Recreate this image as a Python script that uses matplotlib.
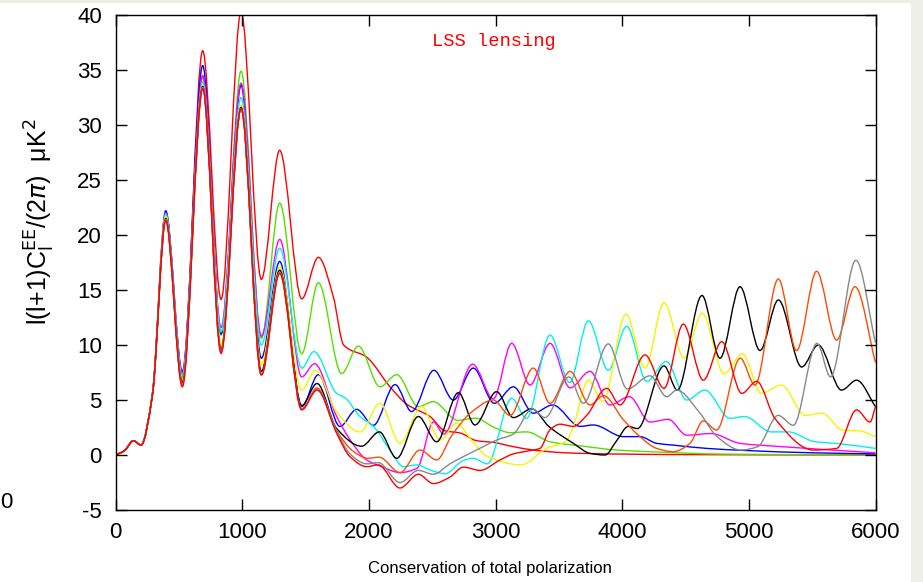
import numpy as np
import matplotlib
matplotlib.use("Agg")
import matplotlib.pyplot as plt
from matplotlib.path import Path
from matplotlib.patches import PathPatch, Rectangle

plt.rcParams["axes.unicode_minus"] = False

# multipoles shared by every curve up to the fourth trough
low_ell = [0, 70, 140, 200, 290, 395, 526, 687, 832, 990, 1150, 1295, 1469]

red_top_low = [0, 0.4, 1.3, 0.9, 5.5, 21.8, 7.0, 36.75, 14.15, 40.3, 15.97, 27.7, 14.2]
red_top_ell = [1600, 1718, 1800, 1981, 2166, 2300, 2482, 2600, 2720, 2850, 2980, 3140,
               3300, 3535, 3930, 4600, 6000]
red_top_val = [17.97, 14.4, 10.0, 8.9, 6.2, 4.6, 3.5, 2.2, 2.0, 1.3, 1.15, 0.76,
               0.45, 0.21, 0.09, 0.03, 0.0]

green_low = [0, 0.4, 1.3, 0.9, 5.5, 22.0, 7.1, 34.3, 10.9, 34.9, 10.6, 22.9, 9.2]
green_ell = [1600, 1784, 1916, 2087, 2219, 2390, 2508, 2700, 2840, 2990, 3114, 3245,
             3430, 3693, 3956, 4219, 4800, 6000]
green_val = [15.66, 7.4, 9.9, 6.2, 7.3, 4.4, 4.85, 3.15, 3.35, 2.5, 2.03, 2.1,
             1.2, 0.8, 0.45, 0.3, 0.08, 0.0]

blue_low = [0, 0.4, 1.3, 0.9, 5.6, 22.2, 7.6, 35.4, 11.0, 33.6, 8.8, 17.6, 4.4]
blue_ell = [1600, 1771, 1903, 2035, 2206, 2337, 2513, 2666, 2824, 2990, 3140, 3298,
            3450, 3666, 3772, 4009, 4140, 4272, 4403, 4667, 4990, 5500, 6000]
blue_val = [7.3, 2.6, 4.15, 2.7, 6.4, 3.95, 7.7, 5.0, 7.9, 4.7, 6.2, 3.8,
            4.55, 2.6, 2.73, 1.67, 1.67, 1.06, 0.9, 0.6, 0.4, 0.2, 0.1]

magenta_low = [0, 0.4, 1.3, 0.9, 5.5, 22.0, 7.4, 34.5, 11.6, 33.8, 10.8, 19.6, 7.1]
magenta_ell = [1570, 1745, 1850, 1982, 2100, 2245, 2380, 2510, 2590, 2819, 2982, 3127,
               3272, 3430, 3588, 3745, 3903, 4056, 4219, 4364, 4509, 4700, 4930, 5258,
               6000]
magenta_val = [8.3, 3.5, 1.4, -0.45, -1.06, -1.6, -1.2, 3.0, 1.9, 8.25, 5.1, 10.15,
               6.36, 10.15, 6.1, 7.6, 4.55, 5.3, 3.0, 3.24, 1.8, 1.95, 1.06, 0.76,
               0.2]

cyan_low = [0, 0.4, 1.3, 0.9, 5.5, 21.9, 7.2, 33.9, 11.2, 32.5, 10.0, 18.8, 7.9]
cyan_ell = [1565, 1745, 1811, 1929, 2035, 2166, 2271, 2380, 2482, 2600, 2745, 2820,
            2935, 3127, 3245, 3430, 3585, 3732, 3890, 4035, 4193, 4348, 4509, 4653,
            4851, 4966, 5177, 5311, 5525, 5685, 6000]
cyan_val = [9.4, 5.6, 5.2, 3.5, 2.6, 0.45, -1.06, -0.9, -1.36, -1.7, -0.5, -0.3,
            -0.8, 5.15, 3.33, 10.9, 6.6, 12.2, 7.7, 11.7, 6.7, 8.5, 5.0, 5.9,
            3.33, 3.5, 2.1, 2.1, 1.2, 1.06, 0.6]

yellow_low = [0, 0.4, 1.3, 0.9, 5.5, 21.7, 6.8, 33.6, 10.0, 31.8, 8.2, 17.1, 5.9]
yellow_ell = [1575, 1745, 1929, 2087, 2245, 2416, 2561, 2693, 2800, 2930, 3200, 3403,
              3561, 3614, 3732, 3846, 4030, 4180, 4330, 4488, 4632, 4803, 4950, 5097,
              5258, 5445, 5578, 5739, 5872, 6000]
yellow_val = [7.7, 3.9, 2.1, 4.7, 1.06, 4.4, 1.36, 2.9, 1.5, -0.1, -0.9, 0.6,
              1.3, 2.6, 6.8, 4.85, 12.8, 7.9, 13.85, 8.8, 12.9, 7.4, 9.2, 5.6,
              6.36, 3.6, 3.8, 2.27, 2.2, 1.67]

black_low = [0, 0.4, 1.3, 0.9, 5.5, 21.5, 6.6, 33.5, 9.6, 31.6, 7.6, 16.8, 4.5]
black_ell = [1590, 1745, 1942, 2082, 2219, 2390, 2535, 2706, 2837, 3008, 3140, 3285,
             3420, 3614, 3745, 3864, 3956, 4048, 4120, 4330, 4435, 4630, 4772, 4930,
             5088, 5233, 5417, 5548, 5732, 5851, 6000]
black_val = [6.5, 2.4, 0.8, 2.1, -0.3, 3.5, 1.2, 5.67, 2.73, 5.76, 3.4, 4.2,
             2.6, 1.06, 0.15, 0.0, 1.3, 2.6, 2.4, 8.1, 5.9, 14.5, 8.8, 15.3,
             9.5, 14.1, 8.0, 10.0, 5.9, 6.8, 4.4]

orange_low = [0, 0.4, 1.3, 0.9, 5.5, 21.4, 6.4, 33.4, 9.4, 31.5, 7.3, 16.6, 4.2]
orange_ell = [1590, 1745, 1880, 1990, 2080, 2245, 2403, 2535, 2650, 2800, 2982, 3114,
              3298, 3430, 3588, 3745, 3851, 4009, 4140, 4272, 4403, 4535, 4640, 4745,
              4932, 5048, 5233, 5377, 5535, 5693, 5838, 6000]
orange_val = [6.1, 2.2, 0.3, -0.3, -0.2, -1.6, 0.45, -0.45, 1.7, 3.8, 5.0, 3.6,
              7.9, 4.7, 7.6, 4.55, 5.4, 3.2, 1.67, 0.6, 0.3, 1.06, 3.1, 2.27,
              8.8, 6.36, 16.0, 9.5, 16.7, 10.45, 15.3, 8.4]

gray_low = [0, 0.4, 1.3, 0.9, 5.5, 21.4, 6.4, 33.4, 9.4, 31.5, 7.3, 16.6, 4.2]
gray_ell = [1590, 1745, 1850, 1982, 2074, 2245, 2390, 2508, 2640, 2745, 2903, 3008,
            3140, 3290, 3390, 3580, 3693, 3890, 4040, 4219, 4351, 4430, 4614, 4746,
            4937, 5070, 5231, 5351, 5538, 5645, 5845, 6000]
gray_val = [6.0, 2.2, 0.1, -0.8, -0.7, -2.5, -1.4, -1.75, -0.8, -0.15, 0.76, 1.36,
            1.9, 4.2, 3.4, 7.1, 4.7, 10.1, 6.0, 7.2, 5.3, 5.9, 3.8, 1.7,
            0.45, 0.76, 3.6, 2.7, 10.15, 7.1, 17.7, 10.2]

red_bot_low = [0, 0.4, 1.3, 0.9, 5.4, 21.3, 6.2, 33.3, 9.24, 31.5, 7.27, 16.5, 4.1]
red_bot_ell = [1590, 1745, 1850, 1982, 2074, 2245, 2390, 2508, 2640, 2745, 2877, 3035,
               3140, 3272, 3350, 3430, 3509, 3614, 3719, 3877, 3982, 4180, 4330, 4482,
               4640, 4786, 4944, 5062, 5207, 5509, 5693, 5851, 5957, 6000]
red_bot_val = [5.9, 1.97, -0.15, -1.06, -0.9, -3.0, -1.75, -2.6, -2.0, -1.1, -1.4, -0.45,
               0.1, 0.4, 0.6, 2.3, 2.8, 2.6, 3.6, 6.06, 4.55, 9.1, 6.06, 11.9,
               6.8, 10.3, 5.6, 6.7, 3.3, 0.45, 0.6, 4.1, 3.0, 4.4]

curves = [
    (red_top_low, red_top_ell, red_top_val, "#ff0000"),
    (green_low, green_ell, green_val, "#55e000"),
    (blue_low, blue_ell, blue_val, "#0000ff"),
    (magenta_low, magenta_ell, magenta_val, "#ff00ff"),
    (cyan_low, cyan_ell, cyan_val, "#00f0f0"),
    (yellow_low, yellow_ell, yellow_val, "#f5f500"),
    (black_low, black_ell, black_val, "#000000"),
    (orange_low, orange_ell, orange_val, "#ff4a00"),
    (gray_low, gray_ell, gray_val, "#888888"),
    (red_bot_low, red_bot_ell, red_bot_val, "#ff0000"),
]


def slopes(x, y):
    # monotone (Fritsch-Carlson) tangents so extrema stay flat
    h = np.diff(x)
    d = np.diff(y) / h
    m = np.zeros_like(y)
    m[0], m[-1] = d[0], d[-1]
    for k in range(1, len(x) - 1):
        if d[k - 1] * d[k] > 0:
            w1 = 2 * h[k] + h[k - 1]
            w2 = h[k] + 2 * h[k - 1]
            m[k] = (w1 + w2) / (w1 / d[k - 1] + w2 / d[k])
    return m


def bezier_path(x, y):
    x = np.asarray(x, float)
    y = np.asarray(y, float)
    m = slopes(x, y)
    verts = [(x[0], y[0])]
    codes = [Path.MOVETO]
    for i in range(len(x) - 1):
        h = (x[i + 1] - x[i]) / 3
        verts += [(x[i] + h, y[i] + m[i] * h),
                  (x[i + 1] - h, y[i + 1] - m[i + 1] * h),
                  (x[i + 1], y[i + 1])]
        codes += [Path.CURVE4] * 3
    return Path(verts, codes)


fig = plt.figure(figsize=(9.23, 5.82), dpi=100, facecolor="#eeeee8")
fig.patches.append(Rectangle((0, 0), 911 / 923, 1 - 3 / 582, transform=fig.transFigure,
                             facecolor="white", edgecolor="none", zorder=-10))
ax = fig.add_axes([115.7 / 923, 1 - 510 / 582, (875.5 - 115.7) / 923, 495 / 582])

for low, ell, val, col in curves:
    path = bezier_path(low_ell + ell, low + val)
    ax.add_patch(PathPatch(path, fill=False, edgecolor=col, lw=1.0))

ax.set_xlim(0, 6000)
ax.set_ylim(-5, 40)
ax.set_xticks(range(0, 6001, 1000))
ax.set_yticks(range(-5, 41, 5))
for s in ax.spines.values():
    s.set_linewidth(1.0)
ax.tick_params(direction="in", length=8, width=1, top=True, right=True,
               labelsize=16, labelfontfamily="Liberation Sans")
ax.tick_params(axis="y", pad=10)
ax.tick_params(axis="x", pad=9)

fig.text(40 / 923, 1 - 222 / 582,
         r"l(l+1)C$_\mathrm{l}^\mathrm{EE}$/(2$\pi$)  μK$^2$",
         rotation=90, ha="center", va="center", fontsize=18, family="Liberation Sans")
fig.text(490 / 923, 1 - 568 / 582, "Conservation of total polarization",
         ha="center", va="center", fontsize=12, family="Liberation Sans")
fig.text(494 / 923, 1 - 41 / 582, "LSS lensing", ha="center", va="center",
         fontsize=13.5, family="Liberation Mono", color="#ff0000")
fig.text(0.0, 1 - 503 / 582, "0", ha="left", va="center", fontsize=16,
         family="Liberation Sans")

fig.savefig("out.png", dpi=100, facecolor=fig.get_facecolor())
